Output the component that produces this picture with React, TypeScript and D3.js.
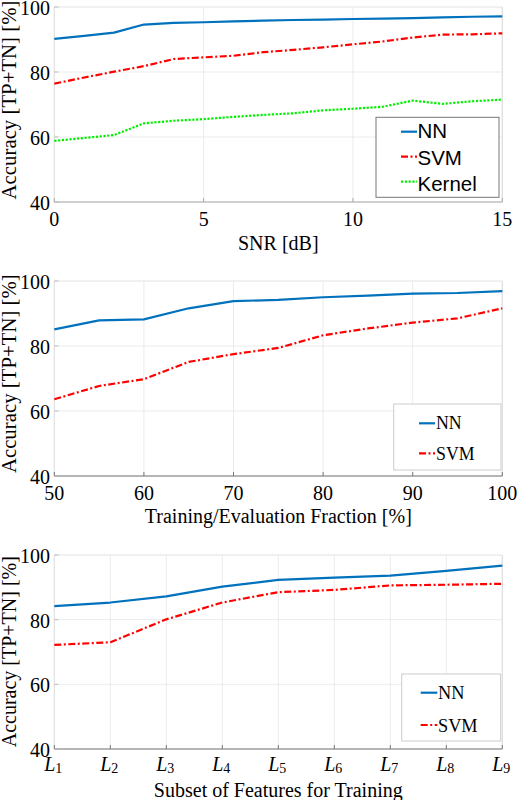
import React from "react";
import * as d3 from "d3";

// ---------- data ----------
const snrX = [0, 1, 2, 3, 4, 5, 6, 7, 8, 9, 10, 11, 12, 13, 14, 15];
const snrNN = [90.2, 91.1, 92.1, 94.6, 95.1, 95.3, 95.6, 95.8, 96.0, 96.1, 96.3, 96.4, 96.6, 96.8, 97.0, 97.1];
const snrSVM = [76.4, 78.3, 80.1, 81.8, 84.0, 84.5, 85.0, 86.1, 86.8, 87.6, 88.5, 89.4, 90.6, 91.5, 91.6, 91.9];
const snrKernel = [58.8, 59.7, 60.6, 64.2, 65.0, 65.5, 66.2, 66.8, 67.3, 68.2, 68.7, 69.3, 71.2, 70.2, 71.0, 71.5];

const fracX = [50, 55, 60, 65, 70, 75, 80, 85, 90, 95, 100];
const fracNN = [85.1, 87.9, 88.2, 91.6, 93.8, 94.2, 95.0, 95.5, 96.1, 96.3, 96.9];
const fracSVM = [63.6, 67.7, 69.8, 75.1, 77.5, 79.4, 83.3, 85.4, 87.2, 88.5, 91.6];

const featX = [1, 2, 3, 4, 5, 6, 7, 8, 9];
const featSub = ["1", "2", "3", "4", "5", "6", "7", "8", "9"];
const featNN = [84.2, 85.3, 87.2, 90.2, 92.3, 93.0, 93.6, 95.1, 96.7];
const featSVM = [72.2, 73.0, 80.1, 85.3, 88.5, 89.2, 90.6, 90.8, 91.1];

const yTicks = [40, 60, 80, 100];
const snrTicks = [0, 5, 10, 15];
const fracTicks = [50, 60, 70, 80, 90, 100];

const yLabel = "Accuracy [TP+TN] [%]";

// ---------- styles ----------
const SERIF = "'Liberation Serif', 'Times New Roman', serif";
const SANS = "'Liberation Sans', Arial, sans-serif";
const BLUE = "#0072BD";
const RED = "#FF0000";
const GREEN = "#00F000";
const GRID = "#e6e6e6";

const styles: Record<string, { color: string; dash?: string }> = {
  NN: { color: BLUE },
  SVM: { color: RED, dash: "7,2.5,2,2.5" },
  Kernel: { color: GREEN, dash: "2.2,1.6" },
};

type Series = { name: string; values: number[] };

type PanelProps = {
  xs: number[];
  xDomain: [number, number];
  xTicks: number[];
  series: Series[];
  top: number;
  bottom: number;
  xTickBaseline: number;
  xTitle: string;
  xTitleBaseline: number;
  yTitleCenter: number;
  yTitleSize: number;
  axisColor: string;
  subscriptTicks?: boolean;
  legend: {
    x0: number; x1: number; y0: number; y1: number;
    border: string; font: string; size: number;
    lineX0: number; lineX1: number; textX: number;
    lineYs: number[]; textYs: number[];
  };
};

function Panel(p: PanelProps) {
  const left = 54.3;
  const right = 502.3;
  const x = d3.scaleLinear().domain(p.xDomain).range([left, right]);
  const y = d3.scaleLinear().domain([40, 100]).range([p.bottom, p.top]);
  const line = d3
    .line<number>()
    .x((_, i) => x(p.xs[i]))
    .y((v) => y(v));

  return (
    <g>
      {/* grid */}
      {yTicks.map((t) => (
        <line key={"gy" + t} x1={left} x2={right} y1={y(t)} y2={y(t)} stroke={GRID} strokeWidth={0.8} />
      ))}
      {p.xTicks.map((t) => (
        <line key={"gx" + t} x1={x(t)} x2={x(t)} y1={p.top} y2={p.bottom} stroke={GRID} strokeWidth={0.8} />
      ))}
      {/* box */}
      <line x1={left} x2={left} y1={p.top} y2={p.bottom} stroke="#e2e2e2" strokeWidth={1} />
      <line x1={right} x2={right} y1={p.top} y2={p.bottom} stroke="#dcdcdc" strokeWidth={1} />
      <line x1={left} x2={right} y1={p.top} y2={p.top} stroke="#ececec" strokeWidth={1} />
      <line x1={left} x2={right} y1={p.bottom} y2={p.bottom} stroke={p.axisColor} strokeWidth={1} />
      {/* ticks */}
      {p.xTicks.map((t) => (
        <line key={"tx" + t} x1={x(t)} x2={x(t)} y1={p.bottom} y2={p.bottom - 4} stroke={p.axisColor} strokeWidth={1} />
      ))}
      {yTicks.map((t) => (
        <line key={"ty" + t} x1={left} x2={left + 4} y1={y(t)} y2={y(t)} stroke="#bbbbbb" strokeWidth={1} />
      ))}
      {/* series */}
      {p.series.map((s) => (
        <path
          key={s.name}
          d={line(s.values) || ""}
          fill="none"
          stroke={styles[s.name].color}
          strokeWidth={2.2}
          strokeDasharray={styles[s.name].dash}
          strokeLinejoin="round"
        />
      ))}
      {/* legend */}
      <rect
        x={p.legend.x0}
        y={p.legend.y0}
        width={p.legend.x1 - p.legend.x0}
        height={p.legend.y1 - p.legend.y0}
        fill="#ffffff"
        stroke={p.legend.border}
        strokeWidth={1}
      />
      {p.series.map((s, i) => (
        <g key={"lg" + s.name}>
          <line
            x1={p.legend.lineX0}
            x2={p.legend.lineX1}
            y1={p.legend.lineYs[i]}
            y2={p.legend.lineYs[i]}
            stroke={styles[s.name].color}
            strokeWidth={2.2}
            strokeDasharray={styles[s.name].dash}
          />
          <text x={p.legend.textX} y={p.legend.textYs[i]} fontFamily={p.legend.font} fontSize={p.legend.size} fill="#000">
            {s.name}
          </text>
        </g>
      ))}
      {/* y tick labels */}
      {yTicks.map((t) => (
        <text key={"yl" + t} x={50} y={y(t)} dy="0.4em" textAnchor="end" fontFamily={SERIF} fontSize={20} fill="#000">
          {t}
        </text>
      ))}
      {/* x tick labels */}
      {p.xTicks.map((t, i) =>
        p.subscriptTicks ? (
          <text key={"xl" + t} x={x(t) - 1} y={p.xTickBaseline} textAnchor="middle" fontFamily={SERIF} fontSize={20} fill="#000">
            <tspan fontStyle="italic">L</tspan>
            <tspan fontSize={14} dy={2}>{featSub[i]}</tspan>
          </text>
        ) : (
          <text key={"xl" + t} x={x(t)} y={p.xTickBaseline} textAnchor="middle" fontFamily={SERIF} fontSize={20} fill="#000">
            {t}
          </text>
        )
      )}
      {/* titles */}
      <text x={(left + right) / 2} y={p.xTitleBaseline} textAnchor="middle" fontFamily={SERIF} fontSize={20} fill="#000">
        {p.xTitle}
      </text>
      <text
        transform={`translate(15.5, ${p.yTitleCenter}) rotate(-90)`}
        textAnchor="middle"
        fontFamily={SERIF}
        fontSize={p.yTitleSize}
        fill="#000"
      >
        {yLabel}
      </text>
    </g>
  );
}

export default function App() {
  return (
    <svg
      width={518}
      height={800}
      viewBox="0 0 518 800"
      style={{ position: "absolute", left: 0, top: 0, background: "#fff" }}
    >
      <rect width={518} height={800} fill="#fff" />
      <Panel
        xs={snrX}
        xDomain={[0, 15]}
        xTicks={snrTicks}
        series={[
          { name: "NN", values: snrNN },
          { name: "SVM", values: snrSVM },
          { name: "Kernel", values: snrKernel },
        ]}
        top={7}
        bottom={202}
        xTickBaseline={225.5}
        xTitle="SNR [dB]"
        xTitleBaseline={250}
        yTitleCenter={100}
        yTitleSize={20.8}
        axisColor="#aaaaaa"
        legend={{
          x0: 376, x1: 499, y0: 117.3, y1: 197.3,
          border: "#777777", font: SANS, size: 20.5,
          lineX0: 401, lineX1: 417, textX: 417.5,
          lineYs: [131.7, 156.7, 181.7], textYs: [138.3, 165, 191],
        }}
      />
      <Panel
        xs={fracX}
        xDomain={[50, 100]}
        xTicks={fracTicks}
        series={[
          { name: "NN", values: fracNN },
          { name: "SVM", values: fracSVM },
        ]}
        top={281}
        bottom={476}
        xTickBaseline={500}
        xTitle="Training/Evaluation Fraction [%]"
        xTitleBaseline={522.5}
        yTitleCenter={373.7}
        yTitleSize={20.8}
        axisColor="#777777"
        legend={{
          x0: 393.7, x1: 501, y0: 404, y1: 470,
          border: "#cccccc", font: SERIF, size: 17.8,
          lineX0: 419, lineX1: 435, textX: 436,
          lineYs: [423.3, 453.3], textYs: [429, 460],
        }}
      />
      <Panel
        xs={featX}
        xDomain={[1, 9]}
        xTicks={featX}
        subscriptTicks
        series={[
          { name: "NN", values: featNN },
          { name: "SVM", values: featSVM },
        ]}
        top={555}
        bottom={749}
        xTickBaseline={770.7}
        xTitle="Subset of Features for Training"
        xTitleBaseline={796.5}
        yTitleCenter={651.7}
        yTitleSize={20}
        axisColor="#777777"
        legend={{
          x0: 401.7, x1: 500.7, y0: 674, y1: 741,
          border: "#cccccc", font: SERIF, size: 18.3,
          lineX0: 420.7, lineX1: 437.3, textX: 438,
          lineYs: [692.7, 725], textYs: [699, 732],
        }}
      />
    </svg>
  );
}
